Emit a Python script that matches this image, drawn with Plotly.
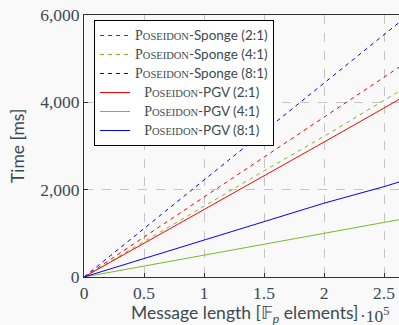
import plotly.graph_objects as go

# Message length in field elements
msg_len = [0, 50000, 100000, 150000, 200000, 250000, 300000]

sponge_2 = [0, 915, 1830, 2745, 3680, 4580, 5490]
sponge_4 = [0, 810, 1640, 2430, 3220, 4060, 4870]
sponge_8 = [0, 1110, 2220, 3330, 4450, 5540, 6660]
pgv_2 = [0, 770, 1540, 2320, 3090, 3870, 4650]
pgv_4 = [0, 250, 505, 755, 1005, 1250, 1500]
pgv_8 = [0, 420, 840, 1260, 1690, 2070, 2490]

x_tickvals = [0, 50000, 100000, 150000, 200000, 250000]
x_ticktext = ["0", "0.5", "1", "1.5", "2", "2.5"]
y_tickvals = [0, 2000, 4000, 6000]

RED = "#ff0000"
GREEN = "#7ab929"
BLUE = "#0000ff"
TEXT = "#3c4a4f"
AXIS = "#2a3437"


def label(kind, ratio, indent=0):
    pad = '<span style="font-size:12px">' + "\u00a0" * indent + "</span>" if indent else ""
    return (pad + '<span style="font-family:Liberation Serif;font-size:14px">P'
            '<span style="font-size:10.5px">OSEIDON</span></span>'
            f'<span style="font-size:13.5px">-{kind} ({ratio})</span>')


series = [
    (label("Sponge", "2:1"), sponge_2, RED, "4px,4px"),
    (label("Sponge", "4:1"), sponge_4, GREEN, "4px,4px"),
    (label("Sponge", "8:1"), sponge_8, BLUE, "4px,4px"),
    (label("PGV", "2:1", 3), pgv_2, RED, "solid"),
    (label("PGV", "4:1", 3), pgv_4, GREEN, "solid"),
    (label("PGV", "8:1", 3), pgv_8, BLUE, "solid"),
]

fig = go.Figure()
for name, ys, color, dash in series:
    fig.add_trace(go.Scatter(x=msg_len, y=ys, mode="lines", name=name,
                             line=dict(color=color, width=1, dash=dash)))

W, H = 399, 325
L, R, T, B = 84, 0, 15, 48
pw, ph = W - L - R, H - T - B


def px_x(p):
    return (p - L) / pw


def px_y(p):
    return (H - B - p) / ph


fig.update_layout(
    width=W, height=H,
    margin=dict(l=L, r=R, t=T, b=B, pad=0),
    paper_bgcolor="#f9f9f9",
    plot_bgcolor="#f9f9f9",
    font=dict(family="Lato", size=11.5, color=TEXT),
    showlegend=True,
    legend=dict(
        x=px_x(94), y=px_y(20), xanchor="left", yanchor="top",
        bgcolor="#ffffff", bordercolor="#000000", borderwidth=1,
        font=dict(family="Lato", size=11.5, color=TEXT),
        itemwidth=30, tracegroupgap=0,
    ),
    xaxis=dict(
        range=[0, 262500],
        tickvals=x_tickvals, ticktext=x_ticktext,
        tickfont=dict(family="Liberation Serif", size=17.5, color=TEXT),
        showgrid=True, gridcolor="#c4c4c4", griddash="dash", gridwidth=1,
        showline=True, linecolor=AXIS, linewidth=1, mirror=True,
        ticks="inside", ticklen=4, tickcolor=AXIS,
        zeroline=False,
    ),
    yaxis=dict(
        range=[0, 6000],
        tickvals=y_tickvals, tickformat=",d",
        tickfont=dict(family="Liberation Serif", size=17.5, color=TEXT),
        showgrid=True, gridcolor="#c4c4c4", griddash="dash", gridwidth=1,
        showline=True, linecolor=AXIS, linewidth=1, mirror=False,
        ticks="inside", ticklen=4, tickcolor=AXIS,
        zeroline=False,
    ),
    annotations=[
        dict(text="Message length [\U0001D53D<sub><i>p</i></sub> elements]",
             xref="paper", yref="paper", x=px_x(244), y=px_y(314),
             xanchor="center", yanchor="middle", showarrow=False,
             font=dict(family="Lato", size=17.5, color=TEXT)),
        dict(text="\u00b710<sup>5</sup>",
             xref="paper", yref="paper", x=px_x(358), y=px_y(315),
             xanchor="left", yanchor="middle", showarrow=False,
             font=dict(family="Liberation Serif", size=17.5, color=TEXT)),
        dict(text="Time [ms]", textangle=-90,
             xref="paper", yref="paper", x=px_x(17), y=px_y(146),
             xanchor="center", yanchor="middle", showarrow=False,
             font=dict(family="Lato", size=17.5, color=TEXT)),
    ],
)

fig.write_html("out.html", config={"displayModeBar": False},
               post_script="document.body.style.margin='0px';document.body.style.overflow='hidden';")
